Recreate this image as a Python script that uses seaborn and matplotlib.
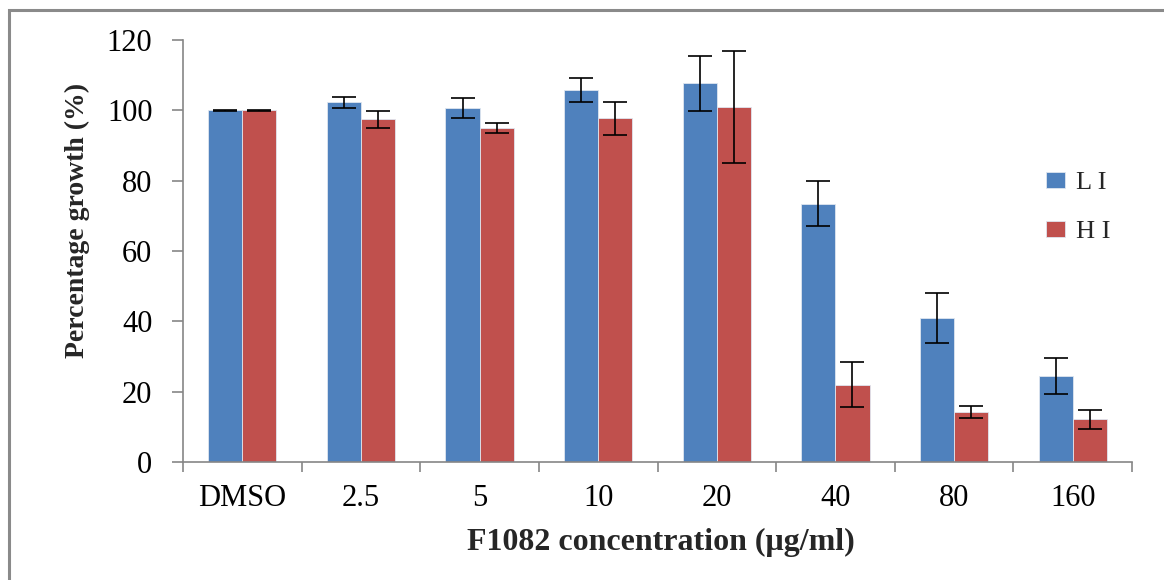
import matplotlib
matplotlib.use("Agg")
import matplotlib.pyplot as plt
from matplotlib.patches import Rectangle
from matplotlib.ticker import FixedLocator
import pandas as pd
import seaborn as sns

# Growth data (mean and error) for each F1082 concentration
concentrations = ["DMSO", "2.5", "5", "10", "20", "40", "80", "160"]
series_names = ["L I", "H I"]
li_growth = [100.0, 102.3, 100.7, 105.9, 107.7, 73.4, 40.9, 24.5]
li_error = [0.15, 1.6, 2.9, 3.4, 7.8, 6.4, 7.1, 5.2]
hi_growth = [100.0, 97.4, 94.9, 97.7, 101.0, 21.9, 14.2, 12.1]
hi_error = [0.15, 2.4, 1.4, 4.6, 15.9, 6.4, 1.8, 2.8]
y_ticks = [0, 20, 40, 60, 80, 100, 120]

colors = ["#4F81BD", "#C0504D"]
axis_gray = "#868686"

sns.set_theme(style="white")
plt.rcParams["font.family"] = ["Liberation Serif", "DejaVu Serif"]

df = pd.DataFrame({
    "conc": concentrations * 2,
    "growth": li_growth + hi_growth,
    "series": [series_names[0]] * len(concentrations) + [series_names[1]] * len(concentrations),
})
errors = [li_error, hi_error]

W, H = 1164, 580
fig = plt.figure(figsize=(W / 100, H / 100), dpi=100)
ax = fig.add_axes([183 / W, 1 - 462 / H, (1132 - 183) / W, (462 - 40) / H])

sns.barplot(data=df, x="conc", y="growth", hue="series", order=concentrations,
            hue_order=series_names, palette=colors, width=0.575, errorbar=None,
            edgecolor="#dfe6f0", linewidth=0.6, saturation=1, legend=False, ax=ax)
bar_containers = list(ax.containers)

# Error bars placed on the centres of the drawn bars
for cont, err in zip(bar_containers, errors):
    xs = [b.get_x() + b.get_width() / 2 for b in cont.patches]
    ys = [b.get_height() for b in cont.patches]
    ax.errorbar(xs, ys, yerr=err, fmt="none", ecolor="black", elinewidth=1.2,
                capsize=8.5, capthick=1.2, zorder=5)

ax.set_xlim(-0.5, len(concentrations) - 0.5)
ax.set_ylim(0, 120)
ax.set_yticks(y_ticks)
ax.set_yticklabels([str(v) for v in y_ticks])

for side in ("top", "right"):
    ax.spines[side].set_visible(False)
for side in ("left", "bottom"):
    ax.spines[side].set_color(axis_gray)
    ax.spines[side].set_linewidth(1.2)

# Category boundary ticks on the x axis
ax.xaxis.set_minor_locator(FixedLocator([i - 0.5 for i in range(len(concentrations) + 1)]))
ax.tick_params(axis="x", which="major", length=0, pad=16, labelsize=22, colors="black")
ax.tick_params(axis="x", which="minor", bottom=True, length=7.5, width=1.2, color=axis_gray)
ax.tick_params(axis="y", which="major", left=True, length=8, width=1.2, color=axis_gray,
               pad=14, labelsize=22, labelcolor="black")

ax.set_xlabel("F1082 concentration (\u03bcg/ml)", fontsize=23, fontweight="bold")
ax.set_ylabel("Percentage growth (%)", fontsize=20, fontweight="bold")
ax.xaxis.set_label_coords(0.504, -0.156)
ax.yaxis.set_label_coords(-0.098, 0.573)

handles = [cont.patches[0] for cont in bar_containers]
ax.legend(handles, series_names, loc="upper left", frameon=False,
          bbox_to_anchor=(1046 / W, 1 - 172 / H), bbox_transform=fig.transFigure,
          borderpad=0, borderaxespad=0, fontsize=19, handlelength=0.72,
          handleheight=0.55, handletextpad=0.4, labelspacing=1.0)

# Gray outer frame along the left and top edges
fig.patches.append(Rectangle((9 / W, -0.05), 1.2, 1 - 10 / H + 0.05, transform=fig.transFigure,
                             fill=False, edgecolor="#8a8a8a", linewidth=2.2, clip_on=False))

fig.savefig("out.png", dpi=100, facecolor="white")
